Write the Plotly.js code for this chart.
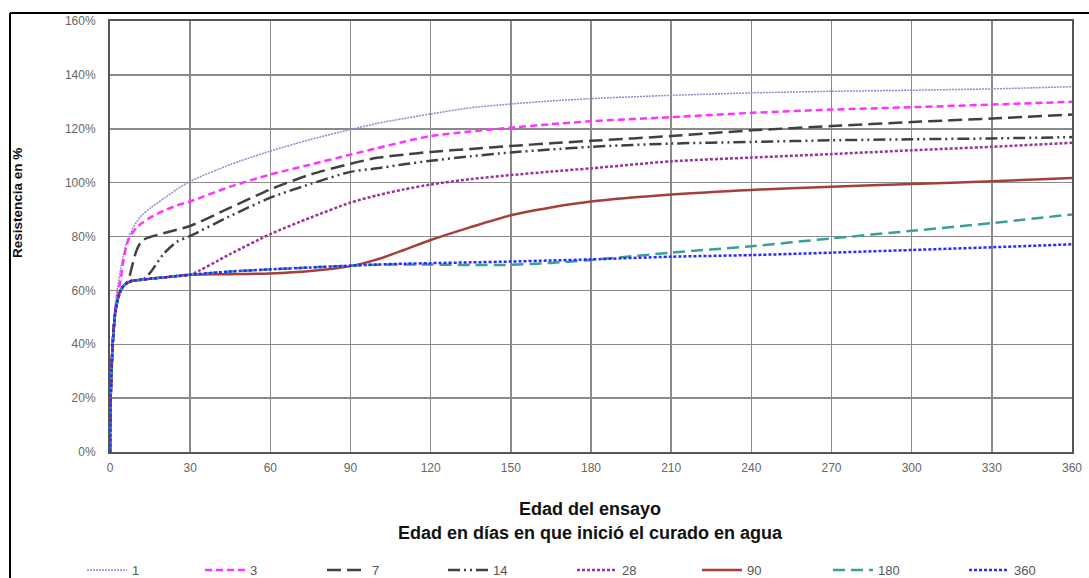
<!DOCTYPE html>
<html>
<head>
<meta charset="utf-8">
<script src="https://cdn.plot.ly/plotly-3.0.1.min.js"></script>
<style>html,body{margin:0;padding:0;background:#fff;}#chart{width:1089px;height:578px;}</style>
</head>
<body>
<div id="chart"></div>
<script>
// Days of the test (x) shared by all series
const days = [0, 0.25, 1, 2, 3, 4, 5, 6, 7, 8, 10, 12, 15, 20, 25, 30, 45, 60, 75, 90, 100, 110, 120, 135, 150, 165, 180, 210, 240, 270, 300, 330, 360];

// Strength in % for each age at which water curing started
const s1   = [0, 20, 40, 55, 62, 68, 73, 77, 80, 82, 85.5, 88, 90.5, 94, 97.5, 100.5, 106.7, 111.7, 116, 119.7, 122, 123.8, 125.5, 127.8, 129.2, 130.3, 131.2, 132.4, 133.3, 133.9, 134.3, 134.8, 135.6];
const s3   = [0, 20, 40, 53, 59, 64, 71, 76, 79, 80.8, 83.3, 85, 87, 89.5, 91.5, 93, 98.5, 103, 106.7, 110.4, 112.8, 115.2, 117.3, 119, 120.4, 121.7, 122.8, 124.3, 125.9, 127.1, 128, 129, 130];
const s7   = [0, 20, 40, 52, 57, 60, 61.5, 62.5, 64, 68, 75, 78.5, 79.8, 81.2, 82.5, 83.9, 90.7, 97.5, 103, 107, 109.2, 110.4, 111.4, 112.5, 113.6, 114.6, 115.5, 117.3, 119.4, 121, 122.5, 123.8, 125.3];
const s14  = [0, 20, 40, 52, 57, 60, 61.5, 62.5, 63, 63.5, 63.8, 63.8, 66.5, 73.5, 78, 80.2, 87.6, 94.4, 99.5, 104, 105.3, 106.8, 108.1, 109.8, 111.2, 112.3, 113.3, 114.5, 115.1, 115.7, 116.1, 116.4, 116.9];
const s28  = [0, 20, 40, 52, 57, 60, 61.5, 62.5, 63, 63.5, 63.8, 64, 64.3, 64.8, 65.3, 65.8, 73.5, 80.9, 87, 92.6, 95.3, 97.5, 99.3, 101.3, 102.8, 104.1, 105.3, 107.9, 109.3, 110.6, 112, 113.3, 114.8];
const s90  = [0, 20, 40, 52, 57, 60, 61.5, 62.5, 63, 63.5, 63.8, 64, 64.3, 64.8, 65.3, 65.8, 66, 66.3, 67.2, 69, 71.5, 75, 78.7, 83.5, 87.9, 90.8, 93, 95.6, 97.3, 98.5, 99.5, 100.5, 101.7];
const s180 = [0, 20, 40, 52, 57, 60, 61.5, 62.5, 63, 63.5, 63.8, 64, 64.3, 64.8, 65.3, 65.8, 67, 67.8, 68.5, 69.2, 69.5, 69.6, 69.6, 69.4, 69.5, 70.2, 71.3, 74, 76.4, 79.3, 82.1, 85, 88.2];
const s360 = [0, 20, 40, 52, 57, 60, 61.5, 62.5, 63, 63.5, 63.8, 64, 64.3, 64.8, 65.3, 65.8, 67, 67.8, 68.5, 69.2, 69.6, 69.9, 70.1, 70.4, 70.7, 71.1, 71.5, 72.5, 73.1, 74, 75, 76, 77.1];

const seriesNames = ['1', '3', '7', '14', '28', '90', '180', '360'];
const seriesValues = [s1, s3, s7, s14, s28, s90, s180, s360];
const xTicks = [0, 30, 60, 90, 120, 150, 180, 210, 240, 270, 300, 330, 360];
const yTicks = [0, 20, 40, 60, 80, 100, 120, 140, 160];

const styles = [
  {color: '#8a8ad6', width: 1.5, dash: '2px,1px'},
  {color: '#ff33ff', width: 2.5, dash: '7px,4px'},
  {color: '#404040', width: 2.5, dash: '14px,6px'},
  {color: '#404040', width: 2.5, dash: '12px,4px,2px,4px,2px,4px'},
  {color: '#993399', width: 2.5, dash: '3px,2px'},
  {color: '#a3403a', width: 2.5, dash: 'solid'},
  {color: '#3a9f9a', width: 2.5, dash: '12px,6px'},
  {color: '#2a2aff', width: 2.5, dash: '3px,2px'}
];

const narrow = '"Liberation Sans Narrow", "Arial Narrow", "Liberation Sans", Arial, sans-serif';
const W = 1089, H = 578, L = 110, R = 17, T = 21, B = 126;
const pw = W - L - R, ph = H - T - B;
const px = v => (v - L) / pw;
const py = v => (H - B - v) / ph;

// legend text left positions (pixels) in the reference
const legendTextX = [132, 250, 372, 493, 622, 747, 878, 1014];

const traces = seriesNames.map((n, i) => ({
  type: 'scatter', mode: 'lines', name: n,
  legend: i === 0 ? 'legend' : 'legend' + (i + 1),
  x: days, y: seriesValues[i],
  line: Object.assign({shape: 'spline', smoothing: 0.7}, styles[i])
}));

const layout = {
  width: W, height: H,
  margin: {l: L, r: R, t: T, b: B, autoexpand: false},
  paper_bgcolor: '#fff', plot_bgcolor: '#fff',
  showlegend: true,
  xaxis: {
    range: [0, 360], tickvals: xTicks, ticktext: xTicks.map(String),
    showgrid: true, gridcolor: '#8a8a8a', gridwidth: 1.5,
    showline: true, linecolor: '#555', linewidth: 2, mirror: true,
    ticks: 'outside', ticklen: 4, tickcolor: 'rgba(0,0,0,0)',
    tickfont: {family: narrow, size: 12, color: '#666'},
    zeroline: false, fixedrange: true
  },
  yaxis: {
    range: [0, 160], tickvals: yTicks, ticktext: yTicks.map(v => v + '%'),
    showgrid: true, gridcolor: '#8a8a8a', gridwidth: 1.5,
    showline: true, linecolor: '#555', linewidth: 2, mirror: true,
    ticks: 'outside', ticklen: 10, tickcolor: 'rgba(0,0,0,0)',
    tickfont: {family: '"Liberation Sans", Arial, sans-serif', size: 12, color: '#666'},
    zeroline: false, fixedrange: true
  },
  shapes: [
    {type: 'line', xref: 'paper', yref: 'paper', x0: px(10), x1: px(1089), y0: py(13), y1: py(13), line: {color: '#000', width: 2}},
    {type: 'line', xref: 'paper', yref: 'paper', x0: px(10), x1: px(10), y0: py(13), y1: py(578), line: {color: '#000', width: 2}}
  ],
  annotations: [
    {xref: 'paper', yref: 'paper', x: px(590), y: py(509), xanchor: 'center', yanchor: 'middle', showarrow: false,
     text: '<b>Edad del ensayo</b>', font: {family: narrow, size: 18, color: '#111'}},
    {xref: 'paper', yref: 'paper', x: px(590), y: py(533), xanchor: 'center', yanchor: 'middle', showarrow: false,
     text: '<b>Edad en días en que inició el curado en agua</b>', font: {family: narrow, size: 18, color: '#111'}},
    {xref: 'paper', yref: 'paper', x: px(18), y: py(203), xanchor: 'center', yanchor: 'middle', showarrow: false,
     textangle: -90, text: '<b>Resistencia en %</b>', font: {family: '"Liberation Sans", Arial, sans-serif', size: 13.5, color: '#111'}}
  ]
};

legendTextX.forEach((tx, i) => {
  const key = i === 0 ? 'legend' : 'legend' + (i + 1);
  layout[key] = {
    orientation: 'h', x: px(tx - 50), xanchor: 'left', y: py(555), yanchor: 'top',
    itemwidth: 40, borderwidth: 0, bgcolor: 'rgba(0,0,0,0)',
    font: {family: narrow, size: 13, color: '#555'}
  };
});

Plotly.newPlot('chart', traces, layout, {displayModeBar: false, staticPlot: true});
</script>
</body>
</html>
